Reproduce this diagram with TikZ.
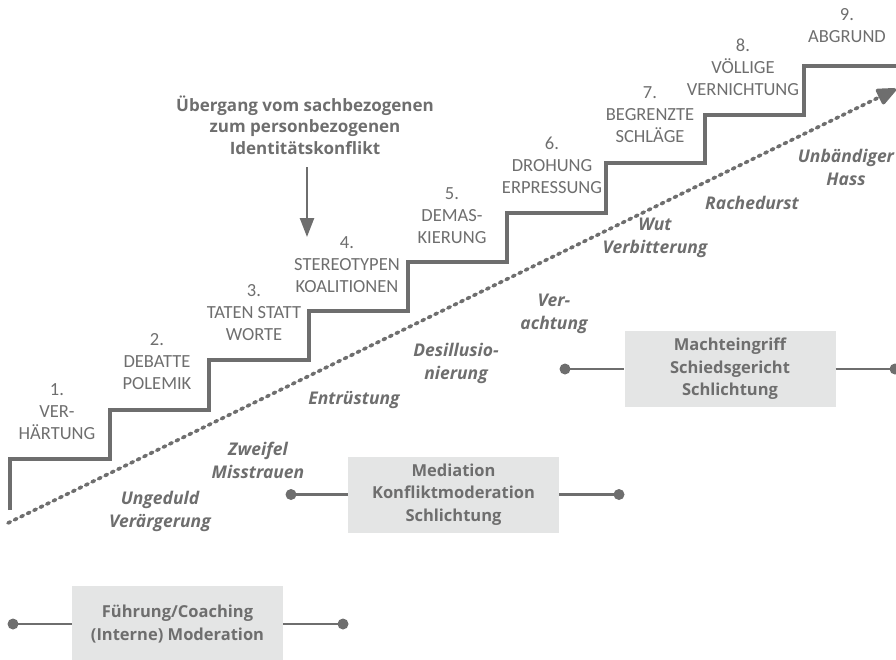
\documentclass[tikz,border=0pt]{standalone}
\usepackage{fontspec}
\setmainfont{Open Sans}
\newfontfamily\stepfont{Carlito}
\usetikzlibrary{arrows.meta}
\definecolor{ink}{HTML}{6E6E6E}
\definecolor{boxfill}{HTML}{E4E5E5}
\begin{document}
\begin{tikzpicture}[x=1pt,y=-1pt,
  steplabel/.style={text=ink, font=\stepfont\fontsize{18.5}{22}\selectfont, align=center, inner sep=0pt},
  feeling/.style={text=ink, font=\bfseries\itshape\fontsize{17.5}{23}\selectfont, align=center, inner sep=0pt},
  titletext/.style={text=ink, font=\bfseries\fontsize{17}{21.5}\selectfont, align=center, inner sep=0pt},
  measure/.style={fill=boxfill, text=ink, font=\bfseries\fontsize{16.5}{22.5}\selectfont, align=center, minimum width=211pt, minimum height=76pt, inner sep=0pt},
  stair/.style={draw=ink, line width=4pt, line join=miter},
  connector/.style={draw=ink, line width=2.5pt},
  enddot/.style={circle, fill=ink, minimum size=11pt, inner sep=0pt},
  escalation/.style={draw=ink, line width=3.6pt, line cap=round, dash pattern=on 2.6pt off 4.6pt, -{Triangle[length=22pt,width=18pt,round=false]}},
]
\useasboundingbox (0,0) rectangle (896,659);

% staircase
\draw[stair] (10,510) -- (10,459) -- (110,459) -- (110,410) -- (209,410) -- (209,360)
  -- (309,360) -- (309,311) -- (408,311) -- (408,262) -- (507,262) -- (507,213)
  -- (606,213) -- (606,163) -- (705,163) -- (705,115) -- (804,115) -- (804,66) -- (900,66);

% escalation arrow
\coordinate (escstart) at (8,523);
\coordinate (escend) at (896,89);
\draw[escalation] (escstart) -- (escend);

% step labels
\node[steplabel] (s1) at (57,412) {1.\\VER-\\HÄRTUNG};
\node[steplabel] (s2) at (157,362) {2.\\DEBATTE\\POLEMIK};
\node[steplabel] (s3) at (254,313) {3.\\TATEN STATT\\WORTE};
\node[steplabel] (s4) at (347,265) {4.\\STEREOTYPEN\\KOALITIONEN};
\node[steplabel] (s5) at (452,216) {5.\\DEMAS-\\KIERUNG};
\node[steplabel] (s6) at (552,165) {6.\\DROHUNG\\ERPRESSUNG};
\node[steplabel] (s7) at (650,115) {7.\\BEGRENZTE\\SCHLÄGE};
\node[steplabel] (s8) at (743,67) {8.\\VÖLLIGE\\VERNICHTUNG};
\node[steplabel] (s9) at (847,26) {9.\\ABGRUND};

% title and arrow
\node[titletext] (title) at (305,125) {Übergang vom sachbezogenen\\zum personbezogenen\\Identitätskonflikt};
\coordinate (arrowtop) at (307,167);
\coordinate (arrowtip) at (307,237);
\draw[connector, -{Triangle[length=19pt,width=14pt]}] (arrowtop) -- (arrowtip);

% feelings
\node[feeling] (f1) at (160,511) {Ungeduld\\Verärgerung};
\node[feeling] (f2) at (258,460) {Zweifel\\Misstrauen};
\node[feeling] (f3) at (354,400) {Entrüstung};
\node[feeling] (f4) at (456,363) {Desillusio-\\nierung};
\node[feeling] (f5) at (554,314) {Ver-\\achtung};
\node[feeling] (f6) at (655,238) {Wut\\Verbitterung};
\node[feeling] (f7) at (752,203) {Rachedurst};
\node[feeling] (f8) at (846,167) {Unbändiger\\Hass};

% measures
\node[measure] (m1) at (177.5,624) {Führung/Coaching\\(Interne) Moderation};
\node[measure] (m2) at (453.5,494.5) {Mediation\\Konfliktmoderation\\Schlichtung};
\node[measure] (m3) at (730,369) {Machteingriff\\Schiedsgericht\\Schlichtung};

\coordinate (d1l) at (13,624);
\coordinate (d1r) at (343,624);
\coordinate (d2l) at (291,494.5);
\coordinate (d2r) at (619,494.5);
\coordinate (d3l) at (565,369);
\coordinate (d3r) at (895,369);

\draw[connector] (d1l) -- (m1.west);
\draw[connector] (m1.east) -- (d1r);
\draw[connector] (d2l) -- (m2.west);
\draw[connector] (m2.east) -- (d2r);
\draw[connector] (d3l) -- (m3.west);
\draw[connector] (m3.east) -- (d3r);
\foreach \d in {d1l,d1r,d2l,d2r,d3l,d3r} \node[enddot] at (\d) {};
\end{tikzpicture}
\end{document}
